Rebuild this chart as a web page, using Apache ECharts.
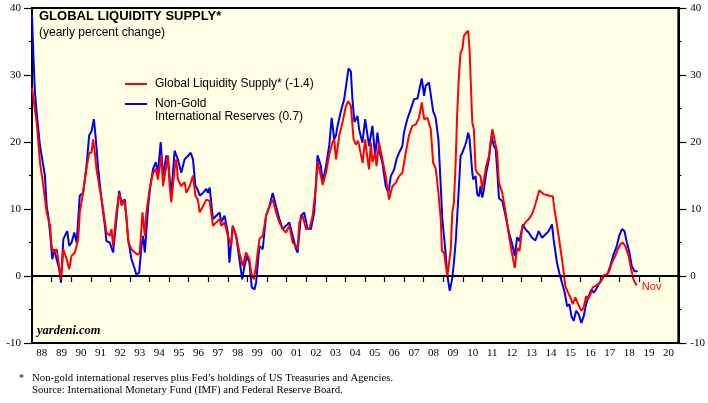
<!DOCTYPE html>
<html lang="en">
<head>
    <meta charset="utf-8">
    <script src="https://cdn.jsdelivr.net/npm/echarts@6/dist/echarts.min.js"></script>
    <style>
        html,
        body {
            margin: 0;
            width: 100%;
            height: 100%;
            background: #fff;
            overflow: hidden;
        }

        #chart {
            width: 708px;
            height: 403px;
        }
    </style>
</head>
<body>
<div id="chart"></div>
<script>
    // year labels under the axis (centred in each year)
    var yearLabels = ['88', '89', '90', '91', '92', '93', '94', '95', '96', '97', '98', '99', '00', '01', '02', '03', '04',
        '05', '06', '07', '08', '09', '10', '11', '12', '13', '14', '15', '16', '17', '18', '19', '20'];

    // Global Liquidity Supply, [decimal year, yearly % change]
    var liquidity = [
        [1988.00, 28.1], [1988.24, 22.9], [1988.41, 16.9], [1988.58, 13.4], [1988.75, 9.5], [1988.92, 7.5], [1989.00, 4.5],
        [1989.09, 3.5], [1989.26, 4.0], [1989.43, 0.5], [1989.48, -0.5], [1989.60, 4.0], [1989.77, 2.5], [1989.90, 1.0],
        [1990.02, 3.0], [1990.19, 3.5], [1990.36, 5.5], [1990.44, 9.5], [1990.61, 12.4], [1990.78, 16.0], [1990.92, 18.4],
        [1991.04, 18.4], [1991.12, 20.4], [1991.21, 18.4], [1991.29, 16.0], [1991.46, 13.0], [1991.63, 10.0], [1991.80, 6.5],
        [1991.97, 6.0], [1992.06, 7.0], [1992.14, 4.5], [1992.31, 9.5], [1992.45, 12.4], [1992.57, 10.5], [1992.70, 11.4],
        [1992.82, 9.0], [1992.92, 5.0], [1993.08, 4.0], [1993.25, 3.5], [1993.42, 3.2], [1993.50, 3.5], [1993.64, 9.5],
        [1993.76, 6.0], [1993.84, 9.5], [1994.01, 13.0], [1994.18, 15.4], [1994.32, 16.0], [1994.43, 14.4], [1994.60, 18.0],
        [1994.69, 13.4], [1994.86, 16.4], [1994.94, 18.0], [1995.03, 13.4], [1995.11, 11.0], [1995.28, 16.0], [1995.37, 17.4],
        [1995.45, 14.4], [1995.62, 13.4], [1995.79, 14.0], [1995.88, 12.4], [1996.05, 13.4], [1996.22, 15.0], [1996.34, 12.0],
        [1996.47, 11.4], [1996.56, 9.5], [1996.73, 10.4], [1996.90, 11.4], [1997.07, 11.2], [1997.24, 7.5], [1997.41, 8.0],
        [1997.58, 8.5], [1997.66, 7.5], [1997.83, 8.0], [1998.00, 6.0], [1998.17, 4.5], [1998.25, 7.5], [1998.42, 6.0],
        [1998.59, 3.5], [1998.76, 1.5], [1998.93, 3.5], [1999.10, 2.5], [1999.19, 0.5], [1999.32, -0.5], [1999.44, 1.5],
        [1999.61, 5.5], [1999.78, 6.0], [1999.95, 9.0], [2000.12, 10.4], [2000.29, 11.4], [2000.46, 9.5], [2000.63, 8.0],
        [2000.80, 7.0], [2000.97, 6.5], [2001.14, 7.5], [2001.31, 5.0], [2001.48, 4.5], [2001.56, 4.0], [2001.65, 8.0],
        [2001.82, 9.0], [2001.99, 7.0], [2002.16, 7.0], [2002.33, 9.0], [2002.50, 13.4], [2002.58, 17.0], [2002.67, 16.0],
        [2002.84, 13.6], [2003.01, 15.4], [2003.18, 18.2], [2003.35, 20.0], [2003.43, 20.4], [2003.52, 17.4], [2003.69, 21.0],
        [2003.86, 23.0], [2004.03, 25.4], [2004.15, 26.1], [2004.28, 25.4], [2004.42, 20.4], [2004.54, 19.6], [2004.65, 20.2],
        [2004.74, 18.9], [2004.88, 16.9], [2005.01, 20.4], [2005.13, 17.5], [2005.21, 15.9], [2005.30, 19.9], [2005.38, 17.0],
        [2005.52, 18.4], [2005.59, 16.4], [2005.72, 19.9], [2005.89, 17.4], [2006.06, 14.9], [2006.23, 11.4], [2006.32, 11.4],
        [2006.40, 13.4], [2006.57, 13.9], [2006.74, 14.9], [2006.91, 15.4], [2007.08, 18.4], [2007.25, 21.0], [2007.42, 22.4],
        [2007.59, 22.6], [2007.76, 23.6], [2007.90, 25.9], [2008.02, 23.4], [2008.19, 23.6], [2008.36, 21.9], [2008.48, 16.9],
        [2008.61, 16.1], [2008.75, 12.4], [2008.87, 8.5], [2008.93, 3.7], [2009.04, 3.5], [2009.13, 1.5], [2009.21, 0.0],
        [2009.30, 0.0], [2009.38, 4.0], [2009.46, 9.5], [2009.54, 10.9], [2009.63, 16.9], [2009.71, 24.4], [2009.80, 29.9],
        [2009.88, 33.3], [2009.97, 33.8], [2010.05, 35.8], [2010.17, 36.3], [2010.27, 36.6], [2010.34, 33.8], [2010.39, 29.9],
        [2010.48, 22.9], [2010.56, 21.9], [2010.65, 15.9], [2010.73, 15.4], [2010.82, 15.4], [2010.90, 14.9], [2010.99, 12.9],
        [2011.07, 14.4], [2011.19, 16.4], [2011.33, 17.9], [2011.41, 19.9], [2011.50, 21.9], [2011.58, 20.9], [2011.67, 20.9],
        [2011.75, 18.4], [2011.84, 13.9], [2012.01, 12.4], [2012.18, 9.5], [2012.35, 6.0], [2012.52, 3.2], [2012.65, 1.2],
        [2012.77, 4.2], [2012.89, 3.7], [2013.02, 7.0], [2013.19, 8.0], [2013.36, 8.5], [2013.53, 9.2], [2013.70, 10.7],
        [2013.90, 12.8], [2014.13, 12.2], [2014.30, 12.1], [2014.47, 11.9], [2014.59, 11.9], [2014.69, 9.7], [2014.86, 6.5],
        [2015.06, 2.5], [2015.23, -1.5], [2015.37, -2.5], [2015.49, -3.2], [2015.61, -4.2], [2015.74, -3.2], [2015.88, -4.2],
        [2016.05, -5.2], [2016.17, -4.7], [2016.29, -3.0], [2016.39, -3.5], [2016.51, -2.7], [2016.63, -1.7], [2016.76, -1.5],
        [2016.90, -1.2], [2017.01, -1.0], [2017.18, 0.0], [2017.30, 0.2], [2017.44, 0.5], [2017.61, 2.0], [2017.78, 3.0],
        [2017.91, 4.0], [2018.03, 4.7], [2018.15, 5.0], [2018.29, 4.5], [2018.46, 3.0], [2018.59, 1.0], [2018.71, -0.5],
        [2018.83, -1.2], [2018.88, -1.4]
    ];

    // Non-Gold International Reserves
    var reserves = [
        [1988.00, 39.0], [1988.07, 33.0], [1988.15, 27.4], [1988.27, 23.4], [1988.41, 19.4], [1988.58, 16.4], [1988.66, 15.0],
        [1988.75, 10.4], [1988.83, 9.0], [1988.92, 6.5], [1989.04, 2.5], [1989.12, 4.0], [1989.26, 2.5], [1989.39, 1.0],
        [1989.48, -1.0], [1989.60, 5.5], [1989.68, 6.0], [1989.80, 6.7], [1989.90, 4.5], [1990.02, 5.0], [1990.16, 6.5],
        [1990.28, 5.0], [1990.44, 12.0], [1990.61, 12.4], [1990.78, 16.4], [1990.92, 21.0], [1991.04, 21.6], [1991.16, 23.4],
        [1991.26, 20.4], [1991.38, 16.0], [1991.55, 11.4], [1991.72, 7.5], [1991.80, 5.2], [1991.97, 5.0], [1992.14, 3.5],
        [1992.28, 7.5], [1992.45, 12.7], [1992.57, 11.0], [1992.74, 11.4], [1992.91, 5.5], [1993.08, 2.5], [1993.25, 1.0],
        [1993.33, 0.2], [1993.47, 0.5], [1993.59, 4.5], [1993.67, 6.0], [1993.76, 3.5], [1993.93, 10.4], [1994.04, 13.4],
        [1994.18, 16.0], [1994.32, 17.0], [1994.43, 15.4], [1994.57, 20.0], [1994.69, 15.0], [1994.86, 18.0], [1994.94, 17.4],
        [1995.11, 12.0], [1995.28, 18.7], [1995.37, 18.0], [1995.45, 17.4], [1995.62, 15.4], [1995.79, 17.4], [1995.96, 17.9],
        [1996.10, 18.4], [1996.22, 17.4], [1996.34, 13.5], [1996.47, 12.8], [1996.56, 12.0], [1996.73, 12.4], [1996.90, 13.0],
        [1996.98, 12.4], [1997.07, 13.2], [1997.24, 8.5], [1997.41, 9.0], [1997.58, 9.5], [1997.66, 8.0], [1997.83, 9.0],
        [1998.00, 6.5], [1998.08, 2.0], [1998.25, 7.5], [1998.42, 6.0], [1998.59, 2.5], [1998.73, -0.5], [1998.85, 1.5],
        [1998.98, 3.0], [1999.10, 2.0], [1999.22, -1.7], [1999.36, -2.0], [1999.44, -1.0], [1999.61, 4.5], [1999.78, 4.0],
        [1999.95, 9.0], [2000.12, 10.4], [2000.29, 12.4], [2000.46, 10.4], [2000.63, 8.5], [2000.80, 7.0], [2000.97, 7.5],
        [2001.14, 8.0], [2001.31, 6.0], [2001.48, 4.0], [2001.56, 3.5], [2001.73, 9.0], [2001.90, 9.5], [2002.07, 7.0],
        [2002.24, 7.0], [2002.41, 9.5], [2002.58, 18.0], [2002.75, 16.4], [2002.84, 14.0], [2003.01, 16.4], [2003.18, 19.6],
        [2003.30, 23.6], [2003.43, 20.4], [2003.52, 21.0], [2003.60, 22.4], [2003.77, 24.6], [2003.94, 26.4], [2004.06, 28.9],
        [2004.16, 31.0], [2004.28, 30.5], [2004.36, 26.4], [2004.46, 23.0], [2004.54, 23.4], [2004.62, 23.9], [2004.70, 21.9],
        [2004.87, 19.9], [2005.01, 23.4], [2005.13, 21.0], [2005.21, 19.4], [2005.38, 22.4], [2005.52, 17.9], [2005.64, 21.4],
        [2005.76, 18.4], [2005.89, 16.9], [2006.06, 13.4], [2006.20, 12.4], [2006.32, 14.9], [2006.49, 15.9], [2006.61, 17.4],
        [2006.74, 18.4], [2006.91, 19.4], [2006.99, 21.4], [2007.16, 23.4], [2007.34, 24.9], [2007.51, 26.4], [2007.68, 26.5],
        [2007.90, 29.5], [2008.02, 26.9], [2008.10, 28.4], [2008.27, 28.9], [2008.36, 29.1], [2008.48, 24.6], [2008.61, 23.6],
        [2008.75, 20.4], [2008.87, 13.4], [2008.95, 8.5], [2009.10, 4.0], [2009.21, 0.0], [2009.33, -2.2], [2009.45, -0.5],
        [2009.54, 2.0], [2009.63, 5.0], [2009.80, 13.4], [2009.88, 17.9], [2009.97, 18.4], [2010.10, 19.4], [2010.17, 20.0],
        [2010.27, 21.4], [2010.34, 20.5], [2010.48, 15.4], [2010.53, 14.4], [2010.65, 14.9], [2010.73, 12.2], [2010.82, 11.9],
        [2010.90, 13.4], [2010.99, 11.7], [2011.07, 12.9], [2011.19, 15.4], [2011.33, 17.4], [2011.46, 20.9], [2011.58, 19.4],
        [2011.67, 19.0], [2011.75, 15.9], [2011.84, 11.6], [2012.01, 11.2], [2012.14, 9.5], [2012.35, 6.5], [2012.52, 4.7],
        [2012.65, 3.0], [2012.77, 5.8], [2012.89, 5.2], [2013.06, 7.7], [2013.19, 7.0], [2013.36, 6.5], [2013.53, 5.7],
        [2013.70, 5.3], [2013.87, 6.7], [2014.04, 5.7], [2014.21, 6.2], [2014.38, 6.7], [2014.55, 7.7], [2014.63, 5.5],
        [2014.80, 2.0], [2014.92, 0.5], [2015.06, -1.0], [2015.20, -2.5], [2015.32, -4.5], [2015.44, -4.2], [2015.54, -6.0],
        [2015.66, -6.7], [2015.78, -5.2], [2015.91, -5.7], [2016.05, -7.0], [2016.17, -6.0], [2016.29, -4.2], [2016.42, -3.0],
        [2016.56, -2.0], [2016.68, -2.5], [2016.80, -2.0], [2016.93, -1.2], [2017.10, -0.5], [2017.23, 0.2], [2017.35, 0.0],
        [2017.52, 1.5], [2017.69, 3.2], [2017.86, 4.5], [2017.98, 6.0], [2018.12, 7.0], [2018.25, 6.7], [2018.37, 5.0],
        [2018.49, 3.7], [2018.62, 1.5], [2018.76, 0.7], [2018.92, 0.7]
    ];

    var RED = '#ff0000';
    var BLUE = '#0000f0';
    var SERIF = 'Liberation Serif';
    var SANS = 'Liberation Sans';

    var chart = echarts.init(document.getElementById('chart'));

    var yAxisBase = {
        type: 'value',
        min: -10,
        max: 40,
        interval: 10,
        axisLine: {show: true, lineStyle: {color: '#000', width: 2}},
        axisTick: {show: true, length: 8, lineStyle: {color: '#000', width: 1.2}},
        minorTick: {show: true, splitNumber: 2, length: 3, lineStyle: {color: '#000', width: 1.2}},
        splitLine: {show: false},
        axisLabel: {color: '#000', fontFamily: SERIF, fontSize: 11}
    };

    chart.setOption({
        animation: false,
        title: {
            text: 'GLOBAL LIQUIDITY SUPPLY*',
            subtext: '(yearly percent change)',
            left: 39,
            top: 10,
            padding: 0,
            itemGap: 4,
            textStyle: {fontFamily: SANS, fontSize: 13, fontWeight: 'bold', color: '#000'},
            subtextStyle: {fontFamily: SANS, fontSize: 12, color: '#000'}
        },
        grid: {
            left: 32,
            right: 28,
            top: 8,
            bottom: 60,
            show: true,
            backgroundColor: '#ffffe6',
            borderColor: '#000',
            borderWidth: 2
        },
        xAxis: [
            {
                type: 'value',
                min: 1988,
                max: 2021,
                interval: 1,
                axisLine: {show: true, lineStyle: {color: '#000', width: 2}},
                axisTick: {show: true, length: 6, lineStyle: {color: '#000', width: 1.2}},
                axisLabel: {show: false},
                splitLine: {show: false}
            },
            {
                type: 'category',
                position: 'bottom',
                data: yearLabels,
                boundaryGap: true,
                axisLine: {show: false},
                axisTick: {show: false},
                axisLabel: {color: '#000', fontFamily: SERIF, fontSize: 11, margin: 5, interval: 0}
            }
        ],
        yAxis: [
            Object.assign({}, yAxisBase, {position: 'left', axisLabel: Object.assign({}, yAxisBase.axisLabel, {margin: 11})}),
            Object.assign({}, yAxisBase, {position: 'right', axisLabel: Object.assign({}, yAxisBase.axisLabel, {margin: 12})})
        ],
        series: [
            {
                name: 'Non-Gold International Reserves',
                type: 'line',
                data: reserves,
                showSymbol: false,
                lineStyle: {color: BLUE, width: 2},
                markLine: {
                    silent: true,
                    symbol: 'none',
                    label: {show: false},
                    lineStyle: {color: '#000', width: 1, type: 'solid'},
                    data: [{yAxis: 0}]
                }
            },
            {
                name: 'Global Liquidity Supply',
                type: 'line',
                data: liquidity,
                showSymbol: false,
                lineStyle: {color: RED, width: 2},
                endLabel: {
                    show: true,
                    formatter: 'Nov',
                    color: RED,
                    fontFamily: SANS,
                    fontSize: 11,
                    distance: 5,
                    offset: [0, 2]
                }
            }
        ],
        graphic: [
            // legend
            {type: 'line', shape: {x1: 125, y1: 84, x2: 147, y2: 84}, style: {stroke: RED, lineWidth: 2}},
            {type: 'text', x: 155, y: 84, style: {text: 'Global Liquidity Supply* (-1.4)', font: '12px ' + SANS, fill: '#000', textVerticalAlign: 'middle'}},
            {type: 'line', shape: {x1: 125, y1: 104, x2: 147, y2: 104}, style: {stroke: BLUE, lineWidth: 2}},
            {type: 'text', x: 155, y: 104, style: {text: 'Non-Gold', font: '12px ' + SANS, fill: '#000', textVerticalAlign: 'middle'}},
            {type: 'text', x: 155, y: 117, style: {text: 'International Reserves (0.7)', font: '12px ' + SANS, fill: '#000', textVerticalAlign: 'middle'}},
            // watermark
            {type: 'text', x: 37, y: 331, style: {text: 'yardeni.com', font: 'italic bold 12.5px ' + SERIF, fill: '#000', textVerticalAlign: 'middle'}},
            // footnote
            {type: 'text', x: 19, y: 378, style: {text: '*', font: '10px ' + SERIF, fill: '#000', textVerticalAlign: 'middle'}},
            {type: 'text', x: 32, y: 378, style: {text: 'Non-gold international reserves plus Fed\u2019s holdings of US Treasuries and Agencies.', font: '10.75px ' + SERIF, fill: '#000', textVerticalAlign: 'middle'}},
            {type: 'text', x: 32, y: 390, style: {text: 'Source: International Monetary Fund (IMF) and Federal Reserve Board.', font: '10.75px ' + SERIF, fill: '#000', textVerticalAlign: 'middle'}}
        ]
    });
</script>
</body>
</html>
